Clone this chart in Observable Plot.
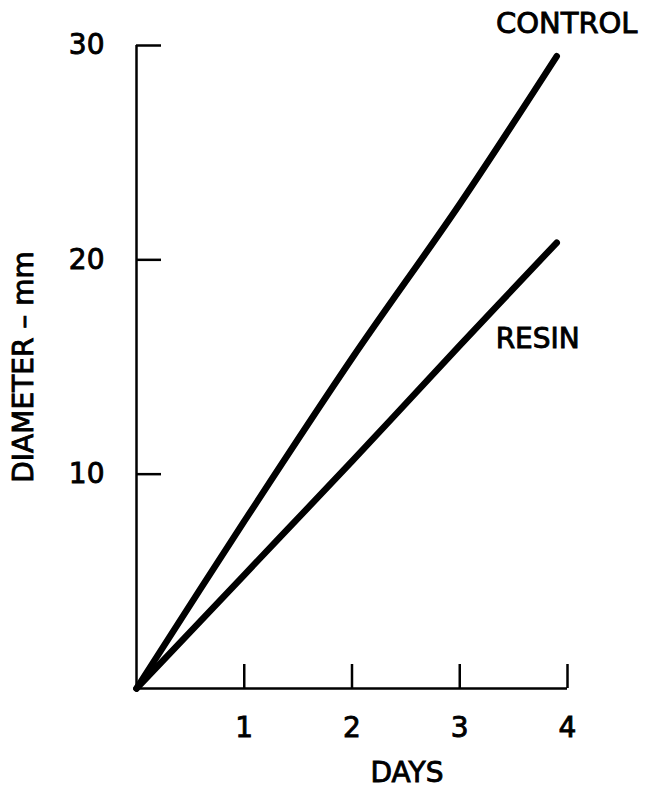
<!DOCTYPE html>
<html><head><meta charset="utf-8">
<script src="https://cdn.jsdelivr.net/npm/d3@7"></script>
<script src="https://cdn.jsdelivr.net/npm/@observablehq/plot@0.6"></script>
<style>
body{margin:0;background:#fff;}
#chart text{paint-order:stroke;stroke:#000;stroke-width:0.9px;}
</style>
</head><body><div id="chart"></div>
<script>
const days = [0, 1, 2, 3, 3.9];
const controlDiameter = [0, 7.8, 15.4, 22.6, 29.5];
const resinDiameter = [0, 5.3, 10.6, 16.0, 20.8];
const xTicks = [1, 2, 3, 4];
const yTicks = [10, 20, 30];
const seriesNames = ["CONTROL", "RESIN"];
const xLabel = "DAYS";
const yLabel = "DIAMETER – mm";

const rows = [];
days.forEach((d, i) => {
  rows.push({series: seriesNames[0], day: d, mm: controlDiameter[i]});
  rows.push({series: seriesNames[1], day: d, mm: resinDiameter[i]});
});
const lastPts = seriesNames.map(s => rows.filter(r => r.series === s).slice(-1)[0]);

const W = 651, H = 787, mL = 136, mR = 84, mT = 45, mB = 99;
const plotW = W - mL - mR, plotH = H - mT - mB;
const font = "DejaVu Sans";

const chart = Plot.plot({
  width: W, height: H,
  marginLeft: mL, marginRight: mR, marginTop: mT, marginBottom: mB,
  style: {fontFamily: font, background: "#fff", color: "#000"},
  x: {domain: [0, 4]},
  y: {domain: [0, 30]},
  marks: [
    Plot.ruleX([0], {stroke: "#000", strokeWidth: 2.5}),
    Plot.ruleY([0], {stroke: "#000", strokeWidth: 2.5}),
    Plot.tickY(yTicks, {y: d => d, insetRight: plotW - 25, stroke: "#000", strokeWidth: 2.5}),
    Plot.tickX(xTicks, {x: d => d, insetTop: plotH - 24, stroke: "#000", strokeWidth: 2.5}),
    Plot.axisY({ticks: yTicks, tickSize: 0, tickPadding: 32, fontSize: 28, label: null, tickFormat: d => String(d)}),
    Plot.axisX({ticks: xTicks, tickSize: 0, tickPadding: 29, fontSize: 28, label: null, tickFormat: d => String(d)}),
    Plot.line(rows, {x: "day", y: "mm", z: "series", stroke: "#000", strokeWidth: 6.5, strokeLinecap: "round", strokeLinejoin: "round", curve: "catmull-rom"}),
    Plot.text([lastPts[0]], {x: "day", y: "mm", text: "series", dx: 10, dy: -32, fontSize: 29, textAnchor: "middle"}),
    Plot.text([lastPts[1]], {x: "day", y: "mm", text: "series", dx: -19, dy: 96, fontSize: 28, textAnchor: "middle"}),
    Plot.text([xLabel], {text: d => d, frameAnchor: "bottom", dx: 55, dy: 93, fontSize: 28}),
    Plot.text([yLabel], {text: d => d, frameAnchor: "left", dx: -112, rotate: -90, fontSize: 28, textAnchor: "middle"})
  ]
});
document.getElementById("chart").appendChild(chart);
</script>
</body></html>
